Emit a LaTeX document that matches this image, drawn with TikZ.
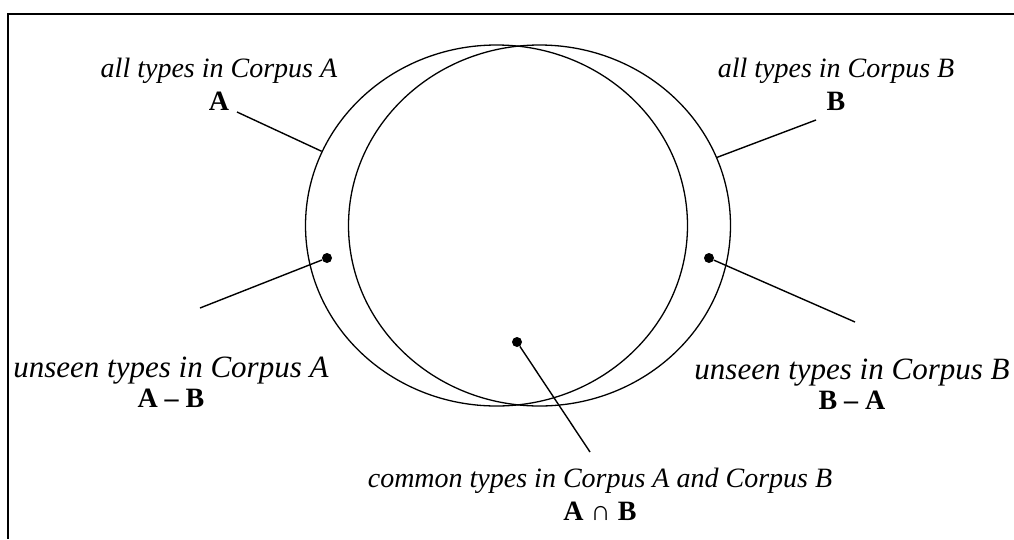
\documentclass[tikz,border=0pt]{standalone}
\usepackage{fontspec}
\setmainfont{Liberation Serif}
\usetikzlibrary{shapes.geometric, positioning}

\begin{document}
\begin{tikzpicture}[x=1pt, y=-1pt,
        conjunto/.style={ellipse, draw, line width=1.3pt, inner sep=0pt, minimum width=382pt, minimum height=361pt},
        punto/.style={circle, fill, inner sep=0pt, minimum size=10pt},
        etiqueta/.style={align=center, inner sep=0pt, font=\fontsize{28}{33}\selectfont},
        guia/.style={line width=1.4pt}]

        % Marco y caja
        \useasboundingbox (0,0) rectangle (1014,539);
        \draw[line width=1.6pt] (1014,14) -- (8,14) -- (8,539);

        % Conjuntos
        \node[conjunto] (setA) at (496.5,225.5) {};
        \node[conjunto] (setB) at (539.5,225.5) {};

        % Puntos
        \node[punto] (dotA) at (327,258) {};
        \node[punto] (dotB) at (709,258) {};
        \node[punto] (dotAB) at (517,342) {};

        % Etiquetas
        \node[etiqueta] (lblA) at (219,84) {\textit{all types in Corpus A}\\\textbf{A}};
        \node[etiqueta] (lblB) at (836,84) {\textit{all types in Corpus B}\\\textbf{B}};
        \node[etiqueta] (lblAmB) at (171,382) {\textit{\fontsize{31}{33}\selectfont unseen types in Corpus A}\\[-3pt]\textbf{A – B}};
        \node[etiqueta] (lblBmA) at (852,384) {\textit{\fontsize{31}{33}\selectfont unseen types in Corpus B}\\[-3pt]\textbf{B – A}};
        \node[etiqueta] (lblAB) at (600,494) {\textit{common types in Corpus A and Corpus B}\\\textbf{A ∩ B}};

        % Extremos libres
        \coordinate (endA) at (237,112);
        \coordinate (endB) at (816,120);
        \coordinate (endAmB) at (200,308);
        \coordinate (endBmA) at (855,322);
        \coordinate (endAB) at (590,452);

        % Conexiones
        \draw[guia] (endA) -- (setA.157);
        \draw[guia] (endB) -- (setB.21);
        \draw[guia] (dotA) -- (endAmB);
        \draw[guia] (dotB) -- (endBmA);
        \draw[guia] (dotAB) -- (endAB);
    \end{tikzpicture}
\end{document}
